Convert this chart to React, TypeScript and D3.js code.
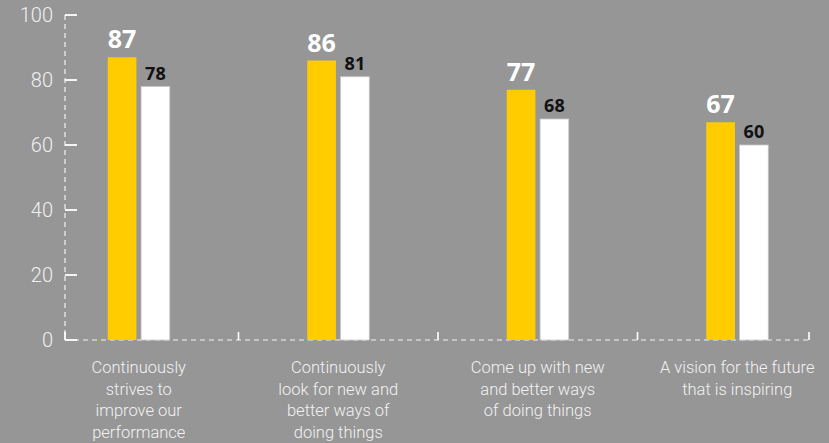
import React from "react";
import * as d3 from "d3";

const categories = [
  ["Continuously", "strives to", "improve our", "performance"],
  ["Continuously", "look for new and", "better ways of", "doing things"],
  ["Come up with new", "and better ways", "of doing things"],
  ["A vision for the future", "that is inspiring"],
];
const catKeys = ["c1", "c2", "c3", "c4"];
const series1 = [87, 86, 77, 67];
const series2 = [78, 81, 68, 60];
const yTicks = [0, 20, 40, 60, 80, 100];

const W = 829;
const H = 443;
const BG = "#969696";

export default function App() {
  const y = d3.scaleLinear().domain([0, 100]).range([340, 15]);
  const x0 = d3.scaleBand<string>().domain(catKeys).range([39, 837]).paddingInner(0);
  const x1 = d3.scaleBand<string>().domain(["a", "b"]).range([-31, 31]).paddingInner(0.14);
  const axisX = 65;
  const axisEnd = 809;
  const light = "Roboto, 'Liberation Sans', sans-serif";
  const bold = "'Open Sans', 'Liberation Sans', sans-serif";

  return (
    <svg width={W} height={H} style={{ position: "absolute", left: 0, top: 0, display: "block" }}>
      <rect width={W} height={H} fill={BG} />
      <line x1={axisX} x2={axisX} y1={y(100)} y2={y(0)} stroke="#f2f2f2" strokeWidth={1.2} strokeDasharray="5,4" />
      <line x1={axisX} x2={axisEnd} y1={y(0)} y2={y(0)} stroke="#f2f2f2" strokeWidth={1.2} strokeDasharray="5,4" />
      {yTicks.map((t) => (
        <g key={t}>
          <line x1={axisX} x2={axisX + 12} y1={y(t)} y2={y(t)} stroke="#fff" strokeWidth={1.8} />
          <text x={53} y={y(t)} dy="0.36em" textAnchor="end" fill="#f0f0f0" fontFamily={light} fontWeight={300} fontSize={20}>
            {t}
          </text>
        </g>
      ))}
      <line x1={axisX} x2={axisX} y1={y(0) - 8} y2={y(0)} stroke="#fff" strokeWidth={1.8} />
      {catKeys.slice(1).map((k) => (
        <line key={k} x1={x0(k)!} x2={x0(k)!} y1={y(0) - 8} y2={y(0)} stroke="#fff" strokeWidth={1.6} />
      ))}
      <line x1={axisEnd} x2={axisEnd} y1={y(0) - 8} y2={y(0)} stroke="#fff" strokeWidth={1.6} />
      {catKeys.map((k, i) => {
        const c = x0(k)! + x0.bandwidth() / 2;
        const xa = c + x1("a")!;
        const xb = c + x1("b")!;
        const bw = x1.bandwidth();
        return (
          <g key={k}>
            <rect x={xa} y={y(series1[i])} width={bw} height={y(0) - y(series1[i])} fill="#FFCC00" />
            <rect x={xb} y={y(series2[i])} width={bw} height={y(0) - y(series2[i])} fill="#fff" stroke="#c8c8c8" strokeWidth={0.8} />
            <text x={xa + bw / 2} y={y(series1[i]) - 9} textAnchor="middle" fill="#fff" fontFamily={bold} fontWeight={700} fontSize={25}>
              {series1[i]}
            </text>
            <text x={xb + bw / 2} y={y(series2[i]) - 7} textAnchor="middle" fill="#111" fontFamily={bold} fontWeight={700} fontSize={18}>
              {series2[i]}
            </text>
            <text textAnchor="middle" fill="#f2f2f2" fontFamily={light} fontWeight={300} fontSize={16.5}>
              {categories[i].map((ln, j) => (
                <tspan key={j} x={c} y={373 + j * 21.7}>
                  {ln}
                </tspan>
              ))}
            </text>
          </g>
        );
      })}
    </svg>
  );
}
